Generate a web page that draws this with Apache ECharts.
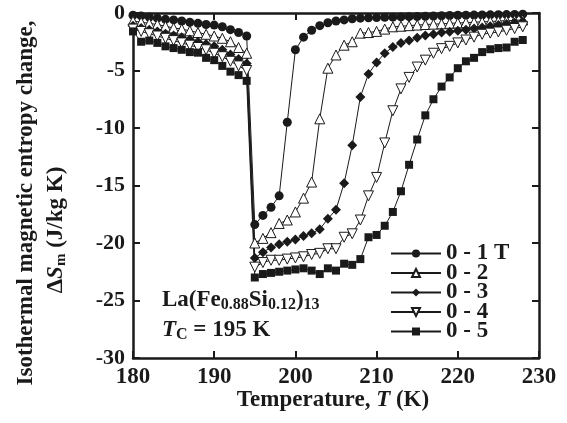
<!DOCTYPE html>
<html>
<head>
<meta charset="utf-8">
<script src="https://cdn.jsdelivr.net/npm/echarts@6/dist/echarts.min.js"></script>
<style>html,body{margin:0;padding:0;background:#fff}#c{width:567px;height:423px}</style>
</head>
<body>
<div id="c"></div>
<script>
// Temperatures (K)
var temps = [180,181,182,183,184,185,186,187,188,189,190,191,192,193,194,195,196,197,198,199,200,201,202,203,204,205,206,207,208,209,210,211,212,213,214,215,216,217,218,219,220,221,222,223,224,225,226,227,228];
// ΔSm values (J/kg K) per field change
var s01 = [-0.2,-0.25,-0.35,-0.45,-0.55,-0.6,-0.7,-0.8,-0.9,-1.0,-1.05,-1.2,-1.45,-1.7,-2.0,
  -18.4,-17.6,-16.9,-15.9,-9.5,-3.2,-2.1,-1.5,-1.1,-0.85,-0.7,-0.6,-0.5,-0.45,-0.42,-0.4,-0.38,-0.36,-0.34,-0.32,-0.3,-0.28,-0.26,-0.24,-0.22,-0.2,-0.19,-0.18,-0.17,-0.16,-0.15,-0.14,-0.12,-0.1];
var s02 = [-0.7,-0.8,-0.9,-1.0,-1.15,-1.3,-1.4,-1.55,-1.7,-1.85,-2.0,-2.2,-2.5,-3.0,-3.5,
  -20.0,-19.6,-19.1,-18.3,-18.0,-17.3,-16.1,-14.7,-9.2,-4.8,-3.65,-2.8,-2.5,-1.75,-1.7,-1.6,-1.4,-1.2,-1.15,-1.1,-1.05,-1.0,-0.97,-0.94,-0.9,-0.87,-0.84,-0.8,-0.77,-0.74,-0.7,-0.67,-0.64,-0.6];
var s03 = [-1.1,-1.3,-1.45,-1.6,-1.8,-1.95,-2.1,-2.3,-2.5,-2.7,-2.9,-3.2,-3.6,-4.0,-4.4,
  -21.3,-20.8,-20.4,-20.1,-19.9,-19.7,-19.4,-19.15,-18.8,-17.9,-17.1,-14.8,-11.5,-7.3,-5.3,-4.3,-3.5,-2.95,-2.6,-2.4,-2.15,-1.95,-1.85,-1.7,-1.62,-1.55,-1.45,-1.35,-1.25,-1.15,-1.05,-0.95,-0.85,-0.75];
var s04 = [-1.4,-1.6,-1.8,-2.0,-2.2,-2.4,-2.6,-2.8,-3.0,-3.2,-3.5,-3.8,-4.2,-4.6,-5.0,
  -22.1,-21.7,-21.5,-21.5,-21.4,-21.3,-21.2,-21.0,-20.9,-20.5,-20.5,-19.5,-19.2,-18.0,-15.9,-14.3,-11.3,-8.5,-6.6,-5.6,-4.7,-4.1,-3.5,-3.1,-2.9,-2.6,-2.35,-2.1,-1.85,-1.75,-1.65,-1.5,-1.35,-1.2];
var s05 = [-1.6,-2.5,-2.4,-2.6,-2.9,-3.05,-3.2,-3.4,-3.45,-3.9,-4.1,-4.6,-5.1,-5.4,-5.9,
  -23.0,-22.7,-22.6,-22.5,-22.4,-22.3,-22.2,-22.4,-22.7,-22.2,-22.4,-21.8,-21.9,-21.4,-19.5,-19.3,-18.5,-17.3,-15.5,-13.2,-11.0,-8.9,-7.5,-6.4,-5.6,-4.8,-4.2,-3.9,-3.4,-3.15,-3.05,-3.0,-2.5,-2.35];
var seriesNames = ['0 - 1 T','0 - 2','0 - 3','0 - 4','0 - 5'];
var xTicks = [180,190,200,210,220,230];
var yTicks = [0,-5,-10,-15,-20,-25,-30];

function pairs(arr){ return temps.map(function(t,i){ return [t, arr[i]]; }); }

var FONT = '"Liberation Serif","Times New Roman",serif';
var INK = '#1a1a1a';

var chart = echarts.init(document.getElementById('c'), null, {renderer:'canvas'});

function mkSeries(name, data, symbol, size, filled, rotate){
  return {
    name: name, type: 'line', data: pairs(data),
    symbol: symbol, symbolSize: size, symbolRotate: rotate || 0,
    showAllSymbol: true,
    lineStyle: {color: INK, width: 1},
    itemStyle: {color: filled ? INK : '#ffffff', borderColor: INK, borderWidth: filled ? 0 : 1},
    emphasis: {disabled: true},
    animation: false
  };
}

var axisCommon = {
  type: 'value',
  axisLine: {show: true, onZero: false, lineStyle: {color: INK, width: 2.5}},
  axisTick: {show: true, inside: true, length: 7, lineStyle: {color: INK, width: 2}},
  splitLine: {show: false}
};

var option = {
  animation: false,
  backgroundColor: '#ffffff',
  grid: {left: 133, right: 28, top: 13, bottom: 65},
  xAxis: [
    Object.assign({}, axisCommon, {
      position: 'bottom', min: xTicks[0], max: xTicks[xTicks.length-1], interval: 10,
      axisLabel: {show: true, margin: 8, color: INK, fontFamily: FONT, fontWeight: 'bold', fontSize: 23}
    }),
    Object.assign({}, axisCommon, {
      position: 'top', min: xTicks[0], max: xTicks[xTicks.length-1], interval: 10,
      axisLabel: {show: false}
    })
  ],
  yAxis: [
    Object.assign({}, axisCommon, {
      position: 'left', min: yTicks[yTicks.length-1], max: yTicks[0], interval: 5,
      axisLabel: {show: true, margin: 8, color: INK, fontFamily: FONT, fontWeight: 'bold', fontSize: 22}
    }),
    Object.assign({}, axisCommon, {
      position: 'right', min: yTicks[yTicks.length-1], max: yTicks[0], interval: 5,
      axisLabel: {show: false}
    })
  ],
  legend: {
    orient: 'vertical', left: 385, top: 237,
    itemWidth: 50, itemHeight: 10, itemGap: -3.5,
    data: seriesNames,
    textStyle: {color: INK, fontFamily: FONT, fontWeight: 'bold', fontSize: 23},
    selectedMode: false
  },
  series: [
    mkSeries(seriesNames[0], s01, 'circle', 9, true),
    mkSeries(seriesNames[1], s02, 'triangle', 10, false),
    mkSeries(seriesNames[2], s03, 'diamond', 10, true),
    mkSeries(seriesNames[3], s04, 'triangle', 10, false, 180),
    mkSeries(seriesNames[4], s05, 'rect', 8, true)
  ],
  graphic: [
    {type: 'text', x: 26, y: 203, rotation: Math.PI/2, silent: true,
     style: {text: 'Isothermal magnetic entropy change,', font: 'bold 23px ' + FONT, fill: INK, align: 'center', verticalAlign: 'middle'}},
    {type: 'text', x: 56, y: 230, rotation: Math.PI/2, silent: true,
     style: {text: '{b|Δ}{i|S}{s|m}{b| (J/kg K)}', align: 'center', verticalAlign: 'middle', fill: INK,
       rich: {
         b: {font: 'bold 23px ' + FONT, fill: INK, lineHeight: 24},
         i: {font: 'italic bold 23px ' + FONT, fill: INK, lineHeight: 24},
         s: {font: 'bold 15px ' + FONT, fill: INK, lineHeight: 15, padding: [10,0,0,0]}
       }}},
    {type: 'text', x: 333, y: 400, silent: true,
     style: {text: '{b|Temperature, }{i|T}{b| (K)}', align: 'center', verticalAlign: 'middle', fill: INK,
       rich: {
         b: {font: 'bold 23px ' + FONT, fill: INK},
         i: {font: 'italic bold 23px ' + FONT, fill: INK}
       }}},
    {type: 'text', x: 162, y: 300, silent: true,
     style: {text: '{b|La(Fe}{s|0.88}{b|Si}{s|0.12}{b|)}{s|13}', align: 'left', verticalAlign: 'middle', fill: INK,
       rich: {
         b: {font: 'bold 23px ' + FONT, fill: INK, lineHeight: 24},
         s: {font: 'bold 16px ' + FONT, fill: INK, lineHeight: 16, padding: [10,0,0,0]}
       }}},
    {type: 'text', x: 162, y: 330, silent: true,
     style: {text: '{i|T}{s|C}{b| = 195 K}', align: 'left', verticalAlign: 'middle', fill: INK,
       rich: {
         b: {font: 'bold 23px ' + FONT, fill: INK, lineHeight: 24},
         i: {font: 'italic bold 23px ' + FONT, fill: INK, lineHeight: 24},
         s: {font: 'bold 16px ' + FONT, fill: INK, lineHeight: 16, padding: [10,0,0,0]}
       }}}
  ]
};
chart.setOption(option);
</script>
</body>
</html>
